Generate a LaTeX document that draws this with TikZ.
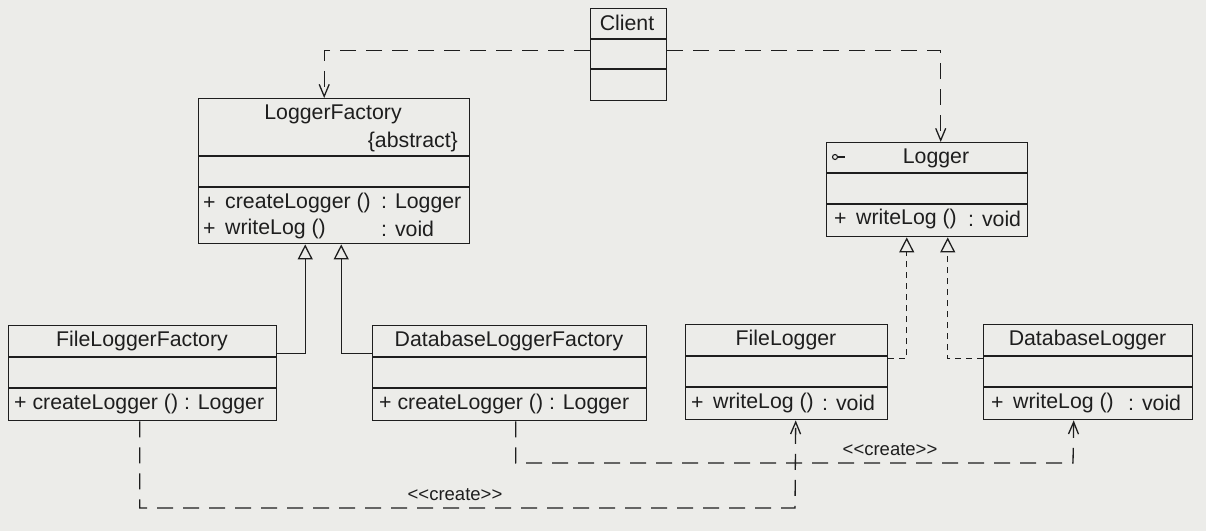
\documentclass[tikz,border=0pt]{standalone}
\usepackage{fontspec}
\setmainfont{Liberation Sans}
\usetikzlibrary{arrows.meta}
\definecolor{paper}{RGB}{236,236,233}
\definecolor{ink}{RGB}{30,30,30}
\tikzset{
  box/.style={draw=ink, line width=1.4pt, rectangle, inner sep=0pt, anchor=north west},
  divider/.style={draw=ink, line width=1.3pt},
  txt/.style={text=ink, inner sep=0pt, font=\fontsize{21.3}{25}\selectfont},
  lbl/.style={text=ink, inner sep=0pt, font=\fontsize{18.5}{22}\selectfont},
  dep/.style={draw=ink, line width=1.3pt, dash pattern=on 16pt off 10pt, -{Straight Barb[length=12pt,width=10pt,line width=1.3pt]}},
  gen/.style={draw=ink, line width=1.3pt, -{Triangle[open,length=15pt,width=15pt,fill=paper,line width=1.3pt]}},
  real/.style={draw=ink, line width=1.3pt, dash pattern=on 6pt off 5pt, -{Triangle[open,length=15pt,width=15pt,fill=paper,line width=1.3pt]}},
}
\begin{document}
\begin{tikzpicture}[x=1pt,y=-1pt]
\fill[paper] (0,0) rectangle (1206,531);
\useasboundingbox (0,0) rectangle (1206,531);

% ---------- Client ----------
\node[box, minimum width=76pt, minimum height=92pt] (client) at (590,8) {};
\draw[divider] (590,39) -- (666,39);
\draw[divider] (590,69) -- (666,69);
\node[txt] (clientname) at (627,23) {Client};

% ---------- LoggerFactory ----------
\node[box, minimum width=271pt, minimum height=145pt] (lf) at (198,98) {};
\draw[divider] (198,156) -- (469,156);
\draw[divider] (198,187) -- (469,187);
\node[txt] (lfname) at (333,114) {LoggerFactory};
\node[txt, anchor=east] (lfabs) at (458,142) {\{abstract\}};
\node[txt, anchor=west] (lfp1) at (203,203) {+};
\node[txt, anchor=west] (lfm1) at (225,203) {createLogger ()};
\node[txt, anchor=west] (lft1) at (381,203) {: Logger};
\node[txt, anchor=west] (lfp2) at (203,229) {+};
\node[txt, anchor=west] (lfm2) at (225,229) {writeLog ()};
\node[txt, anchor=west] (lft2) at (381,229) {: void};

% ---------- Logger ----------
\node[box, minimum width=201pt, minimum height=94pt] (logger) at (826,142) {};
\draw[divider] (826,173) -- (1027,173);
\draw[divider] (826,204) -- (1027,204);
\node[txt] (loggername) at (936,158) {Logger};
\draw[ink, line width=1.1pt] (835,157) circle (2.5pt);
\draw[ink, line width=1.1pt] (837.5,157) -- (845,157);
\node[txt, anchor=west] (loggerp) at (834,219) {+};
\node[txt, anchor=west] (loggerm) at (856,219) {writeLog ()};
\node[txt, anchor=west] (loggert) at (968,219) {: void};

% ---------- FileLoggerFactory ----------
\node[box, minimum width=268pt, minimum height=95pt] (flf) at (8,325) {};
\draw[divider] (8,357) -- (276,357);
\draw[divider] (8,388) -- (276,388);
\node[txt] (flfname) at (142,341) {FileLoggerFactory};
\node[txt, anchor=west] (flfm) at (14,404) {+ createLogger () : Logger};

% ---------- DatabaseLoggerFactory ----------
\node[box, minimum width=274pt, minimum height=95pt] (dlf) at (372,325) {};
\draw[divider] (372,357) -- (646,357);
\draw[divider] (372,388) -- (646,388);
\node[txt] (dlfname) at (509,341) {DatabaseLoggerFactory};
\node[txt, anchor=west] (dlfm) at (379,404) {+ createLogger () : Logger};

% ---------- FileLogger ----------
\node[box, minimum width=202pt, minimum height=95pt] (fl) at (685,324) {};
\draw[divider] (685,356) -- (887,356);
\draw[divider] (685,387) -- (887,387);
\node[txt] (flname) at (786,340) {FileLogger};
\node[txt, anchor=west] (flp) at (691,403) {+};
\node[txt, anchor=west] (flm) at (713,403) {writeLog ()};
\node[txt, anchor=west] (flt) at (822,403) {: void};

% ---------- DatabaseLogger ----------
\node[box, minimum width=209pt, minimum height=95pt] (dl) at (983,324) {};
\draw[divider] (983,356) -- (1192,356);
\draw[divider] (983,387) -- (1192,387);
\node[txt] (dlname) at (1087.5,340) {DatabaseLogger};
\node[txt, anchor=west] (dlp) at (991,403) {+};
\node[txt, anchor=west] (dlm) at (1013,403) {writeLog ()};
\node[txt, anchor=west] (dlt) at (1128,403) {: void};

% ---------- Client dependencies ----------
\draw[dep] ([yshift=4pt]client.west) -| ([xshift=-10pt]lf.north);
\draw[dep] ([yshift=4pt]client.east) -| ([xshift=13.5pt]logger.north);

% ---------- Generalizations ----------
\draw[gen] ([yshift=19.5pt]flf.east) -| ([xshift=-29pt]lf.south);
\draw[gen] ([yshift=19.5pt]dlf.west) -| ([xshift=7pt]lf.south);

% ---------- Realizations ----------
\draw[real] ([yshift=13.5pt]fl.east) -| ([xshift=-20.5pt]logger.south);
\draw[real] ([yshift=13.5pt]dl.west) -| ([xshift=20.5pt]logger.south);

% ---------- create dependencies ----------
\coordinate (c1) at (795,508);
\coordinate (c2) at (1073,463);
\draw[dep] ([xshift=-3pt]flf.south) |- (c1) -- ([xshift=9pt]fl.south);
\draw[dep] ([xshift=6pt]dlf.south) |- (c2) -- ([xshift=-14.5pt]dl.south);
\node[lbl] (create1) at (455,495) {<{}<create>{}>};
\node[lbl] (create2) at (890,450) {<{}<create>{}>};
\end{tikzpicture}
\end{document}
